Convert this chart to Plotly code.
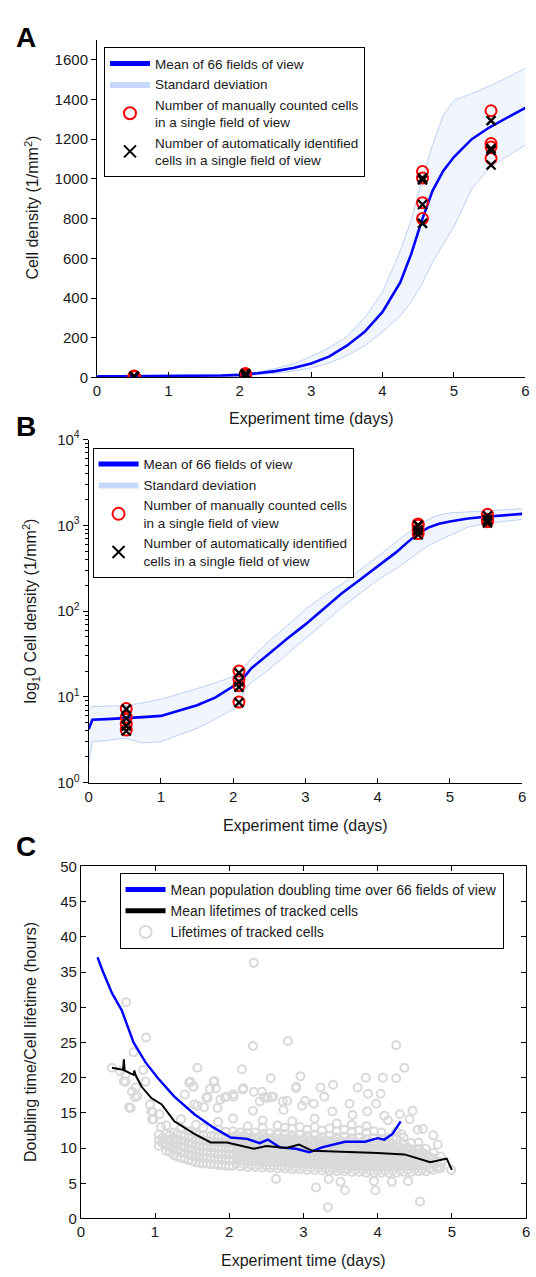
import plotly.graph_objects as go

W, H = 536, 1277
FONT = "Liberation Sans, Arial, Helvetica, sans-serif"

# ---------------- Panel A / B data (cell density, 1/mm^2) ----------------
density_days = [0, 0.05, 0.25, 0.5, 0.75, 1.0, 1.25, 1.5, 1.75, 2.0, 2.1, 2.15, 2.25, 2.5, 2.75,
                3.0, 3.25, 3.5, 3.75, 4.0, 4.25, 4.4, 4.55, 4.7, 4.85, 5.0, 5.25, 5.5, 5.75, 6.0]
density_mean = [4.2, 5.4, 5.5, 5.6, 5.8, 6.0, 6.9, 8.0, 9.8, 13.1, 15, 17, 21.5, 32, 48,
                70, 105, 160, 230, 330, 480, 620, 790, 940, 1040, 1110, 1200, 1260, 1310, 1358]
density_upper = [7.0, 7.7, 7.8, 7.9, 8.5, 9.4, 10.8, 12.4, 14.5, 17.3, 20, 22, 28, 45, 68,
                 105, 150, 205, 300, 430, 640, 790, 990, 1170, 1320, 1395, 1430, 1467, 1510, 1558]
density_lower = [1.7, 3.0, 3.1, 3.3, 2.9, 3.0, 3.6, 4.3, 5.5, 7.2, 8.0, 12, 14.6, 21, 32,
                 48, 72, 110, 160, 230, 310, 380, 470, 580, 670, 760, 950, 1055, 1115, 1170]

sample_days = [0.52, 2.08, 4.56, 5.52]
manual_counts = [[7.3, 5.8, 4.8, 4.1], [20, 16, 13.5, 8.7],
                 [1037, 1004, 880, 800], [1343, 1178, 1161, 1103]]
auto_counts = [[7.2, 5.6, 4.6, 4.0], [19, 15, 13, 8.6],
               [1004, 995, 871, 776], [1293, 1153, 1143, 1070]]

# ---------------- Panel C data (hours) ----------------
doubling_days = [0.225, 0.3, 0.42, 0.55, 0.71, 0.87, 1.04, 1.26, 1.53, 1.79, 2.02, 2.24, 2.41,
                 2.52, 2.68, 2.9, 3.08, 3.25, 3.56, 3.83, 4.0, 4.09, 4.2, 4.31]
doubling_hours = [37.1, 35.0, 32.0, 29.6, 25.0, 22.2, 19.9, 17.3, 14.8, 12.9, 11.5, 11.3, 10.7,
                  11.2, 10.1, 9.9, 9.4, 10.1, 10.9, 10.9, 11.4, 11.2, 12.0, 13.8]

lifetime_mean_days = [0.42, 0.57, 0.58, 0.59, 0.71, 0.72, 0.74, 0.82, 0.95, 1.09, 1.26, 1.53, 1.75,
                      1.97, 2.33, 2.5, 2.77, 2.94, 3.12, 3.56, 4.0, 4.36, 4.71, 4.93, 5.0]
lifetime_mean_hours = [21.4, 21.1, 22.6, 21.0, 20.4, 21.0, 20.3, 18.7, 17.1, 16.2, 13.8, 12.0, 10.8,
                       10.8, 9.9, 10.3, 10.0, 10.5, 9.6, 9.5, 9.3, 9.1, 8.0, 8.5, 6.9]

# isolated tracked-cell lifetimes (day, hours)
outlier_days = [0.61, 2.33, 0.88, 0.71, 2.32, 2.79, 4.25, 0.42, 0.60, 0.60, 0.69, 0.73, 0.67,
                0.95, 0.98, 0.93, 0.87, 0.84, 1.48, 1.52, 1.79, 1.82, 2.18, 2.33, 2.44, 1.40,
                1.71, 1.88, 1.97, 2.06, 2.41, 2.52, 2.59, 2.72, 2.90, 1.53, 1.66, 1.84,
                2.63, 3.17, 3.33, 3.56, 3.97, 4.57, 3.95, 3.34, 3.50, 4.19, 4.41, 4.99, 4.82,
                4.75, 4.81, 4.47, 4.54, 4.36, 4.25, 4.07, 3.84, 3.73, 3.87, 4.04, 3.98, 3.86,
                4.09, 4.43, 4.30, 3.62, 3.40, 3.23, 3.28, 2.96, 2.90, 2.78, 2.56, 2.19, 2.17,
                1.57, 1.80, 1.74, 1.46, 1.51, 1.57, 1.69, 1.94, 2.05, 2.32, 2.47, 2.57, 2.73,
                2.98, 3.14, 3.02, 3.39, 3.66, 4.14, 4.21, 4.32, 4.61, 4.86, 0.65, 0.97, 0.96,
                0.53, 0.58, 0.74, 0.76, 1.06, 1.08]
outlier_hours = [30.7, 36.3, 25.7, 23.6, 24.5, 25.2, 24.6, 21.4, 20.4, 19.4, 18.0, 17.2, 15.7,
                 15.2, 14.1, 16.2, 19.4, 21.1, 19.4, 18.7, 19.4, 18.5, 18.3, 18.0, 18.0, 17.6,
                 17.1, 16.9, 17.3, 17.3, 16.6, 17.1, 17.3, 16.6, 18.5, 16.2, 15.8, 15.7,
                 5.6, 4.4, 1.6, 4.0, 4.0, 2.4, 5.3, 5.6, 5.2, 5.2, 5.3, 6.9, 7.1,
                 11.8, 10.5, 15.3, 12.6, 21.4, 19.9, 20.0, 20.0, 18.6, 17.7, 17.7, 16.3, 15.2,
                 14.6, 14.1, 14.8, 16.3, 19.0, 18.6, 17.3, 20.2, 18.7, 16.7, 19.9, 18.5, 21.2,
                 21.4, 19.5, 18.4, 19.3, 18.7, 16.0, 17.2, 17.2, 17.6, 15.3, 17.2, 17.3, 15.4,
                 16.0, 16.3, 16.7, 15.2, 14.7, 13.9, 11.6, 12.0, 12.7, 7.8, 15.8, 15.1, 14.1,
                 20.9, 19.5, 18.6, 17.4, 14.8, 13.0]

# dense cloud of tracked-cell lifetimes, by column (day -> hours)
cloud_days = [1.05, 1.15, 1.25, 1.35, 1.45, 1.55, 1.65, 1.75, 1.85, 1.95, 2.05, 2.15, 2.25,
              2.35, 2.45, 2.55, 2.65, 2.75, 2.85, 2.95, 3.05, 3.15, 3.25, 3.35, 3.45, 3.55,
              3.65, 3.75, 3.85, 3.95, 4.05, 4.15, 4.25, 4.35, 4.45, 4.55, 4.65, 4.75, 4.85]
cloud_hours = [
    [10.3, 11.1, 11.9],
    [9.6, 10.4, 11.2, 12.0, 13.2],
    [9.0, 9.8, 10.6, 11.4, 12.2],
    [8.6, 9.4, 10.2, 11.0, 11.8, 12.8, 14.1],
    [8.3, 9.1, 9.9, 10.7, 11.5, 12.4],
    [8.0, 8.8, 9.6, 10.4, 11.2, 12.0, 13.3],
    [7.8, 8.6, 9.4, 10.2, 11.0, 11.8, 12.9],
    [7.7, 8.5, 9.3, 10.1, 10.9, 11.7],
    [7.6, 8.4, 9.2, 10.0, 10.8, 11.6, 12.6, 13.7],
    [7.5, 8.3, 9.1, 9.9, 10.7, 11.5, 12.3],
    [7.5, 8.3, 9.1, 9.9, 10.7, 11.5, 12.4, 14.2],
    [7.4, 8.2, 9.0, 9.8, 10.6, 11.4, 12.2],
    [7.3, 8.1, 8.9, 9.7, 10.5, 11.3, 12.1, 13.1],
    [7.3, 8.1, 8.9, 9.7, 10.5, 11.3, 12.2],
    [7.2, 8.0, 8.8, 9.6, 10.4, 11.2, 12.0, 12.9, 13.9],
    [7.2, 8.0, 8.8, 9.6, 10.4, 11.2, 12.1],
    [7.1, 7.9, 8.7, 9.5, 10.3, 11.1, 11.9, 13.2],
    [7.1, 7.9, 8.7, 9.5, 10.3, 11.1, 12.0, 12.9],
    [7.0, 7.8, 8.6, 9.4, 10.2, 11.0, 11.8, 12.7, 13.8],
    [7.0, 7.8, 8.6, 9.4, 10.2, 11.0, 11.9, 13.0],
    [6.9, 7.7, 8.5, 9.3, 10.1, 10.9, 11.7, 12.6],
    [6.9, 7.7, 8.5, 9.3, 10.1, 10.9, 11.8, 13.0, 14.2],
    [6.8, 7.6, 8.4, 9.2, 10.0, 10.8, 11.6, 12.5],
    [6.8, 7.6, 8.4, 9.2, 10.0, 10.8, 11.7, 12.8],
    [6.7, 7.5, 8.3, 9.1, 9.9, 10.7, 11.5, 12.4, 13.5],
    [6.7, 7.5, 8.3, 9.1, 9.9, 10.7, 11.6, 12.6],
    [6.6, 7.4, 8.2, 9.0, 9.8, 10.6, 11.4, 12.3, 13.3],
    [6.6, 7.4, 8.2, 9.0, 9.8, 10.6, 11.5, 12.5],
    [6.5, 7.3, 8.1, 8.9, 9.7, 10.5, 11.3, 12.2, 13.1],
    [6.5, 7.3, 8.1, 8.9, 9.7, 10.5, 11.4, 12.4],
    [6.5, 7.3, 8.1, 8.9, 9.7, 10.5, 11.3, 12.2],
    [6.5, 7.3, 8.1, 8.9, 9.7, 10.5, 11.4],
    [6.5, 7.3, 8.1, 8.9, 9.7, 10.5, 11.3, 12.3],
    [6.6, 7.4, 8.2, 9.0, 9.8, 10.6, 11.5],
    [6.6, 7.4, 8.2, 9.0, 9.8, 10.7],
    [6.7, 7.5, 8.3, 9.1, 9.9, 10.8],
    [6.7, 7.5, 8.3, 9.1, 9.9],
    [6.9, 7.7, 8.5, 9.3],
    [7.2, 8.0, 8.8],
]
# second, interleaved set of cloud columns
cloud2_days = [1.1, 1.2, 1.3, 1.4, 1.5, 1.6, 1.7, 1.8, 1.9, 2.0, 2.1, 2.2, 2.3, 2.4, 2.5, 2.6,
               2.7, 2.8, 2.9, 3.0, 3.1, 3.2, 3.3, 3.4, 3.5, 3.6, 3.7, 3.8, 3.9, 4.0, 4.1, 4.2,
               4.3, 4.4, 4.5, 4.6, 4.7, 4.8]
cloud2_hours = [
    [10.7, 11.5],
    [9.4, 10.2, 11.0, 11.8],
    [8.8, 9.6, 10.4, 11.2, 12.0],
    [8.5, 9.3, 10.1, 10.9, 11.7],
    [8.2, 9.0, 9.8, 10.6, 11.4],
    [7.9, 8.7, 9.5, 10.3, 11.1, 11.9],
    [7.8, 8.6, 9.4, 10.2, 11.0],
    [7.7, 8.5, 9.3, 10.1, 10.9, 11.7],
    [7.6, 8.4, 9.2, 10.0, 10.8],
    [7.5, 8.3, 9.1, 9.9, 10.7, 11.5],
    [7.8, 8.6, 9.4, 10.2, 11.0, 11.8],
    [7.7, 8.5, 9.3, 10.1, 10.9, 11.7],
    [7.6, 8.4, 9.2, 10.0, 10.8, 11.6],
    [7.6, 8.4, 9.2, 10.0, 10.8, 11.6],
    [7.5, 8.3, 9.1, 9.9, 10.7, 11.5],
    [7.5, 8.3, 9.1, 9.9, 10.7, 11.5],
    [7.4, 8.2, 9.0, 9.8, 10.6, 11.4],
    [7.4, 8.2, 9.0, 9.8, 10.6, 11.4],
    [7.3, 8.1, 8.9, 9.7, 10.5, 11.3],
    [7.3, 8.1, 8.9, 9.7, 10.5, 11.3],
    [7.2, 8.0, 8.8, 9.6, 10.4, 11.2],
    [7.2, 8.0, 8.8, 9.6, 10.4, 11.2],
    [7.1, 7.9, 8.7, 9.5, 10.3, 11.1],
    [7.1, 7.9, 8.7, 9.5, 10.3, 11.1],
    [7.0, 7.8, 8.6, 9.4, 10.2, 11.0],
    [7.0, 7.8, 8.6, 9.4, 10.2, 11.0],
    [6.9, 7.7, 8.5, 9.3, 10.1, 10.9],
    [6.9, 7.7, 8.5, 9.3, 10.1, 10.9],
    [6.8, 7.6, 8.4, 9.2, 10.0, 10.8],
    [6.8, 7.6, 8.4, 9.2, 10.0, 10.8],
    [6.8, 7.6, 8.4, 9.2, 10.0, 10.8],
    [6.8, 7.6, 8.4, 9.2, 10.0],
    [6.9, 7.7, 8.5, 9.3, 10.1],
    [6.9, 7.7, 8.5, 9.3, 10.1],
    [7.0, 7.8, 8.6, 9.4],
    [7.0, 7.8, 8.6, 9.4],
    [7.1, 7.9, 8.7],
    [7.3, 8.1],
]

x_ticks = [0, 1, 2, 3, 4, 5, 6]

# ---------------- helpers ----------------
def flat(days, groups):
    xs, ys = [], []
    for d, g in zip(days, groups):
        for v in g:
            xs.append(d)
            ys.append(v)
    return xs, ys

man_x, man_y = flat(sample_days, manual_counts)
aut_x, aut_y = flat(sample_days, auto_counts)
cl_x, cl_y = flat(cloud_days, cloud_hours)
cl2_x, cl2_y = flat(cloud2_days, cloud2_hours)
life_x = cl_x + cl2_x + outlier_days
life_y = cl_y + cl2_y + outlier_hours

BLUE = "#0000ff"
BAND_LINE = "#bcd0fa"
BAND_FILL = "rgba(225,234,253,0.45)"
SWATCH = "#c6d9fb"
GRAY = "#d9d9d9"

fig = go.Figure()

def density_panel(xa, ya, leg):
    fig.add_trace(go.Scatter(x=density_days, y=density_upper, mode="lines",
                             line=dict(color=BAND_LINE, width=1), showlegend=False,
                             xaxis=xa, yaxis=ya, hoverinfo="skip"))
    fig.add_trace(go.Scatter(x=density_days, y=density_lower, mode="lines", fill="tonexty",
                             fillcolor=BAND_FILL, line=dict(color=BAND_LINE, width=1),
                             showlegend=False, xaxis=xa, yaxis=ya, hoverinfo="skip"))
    fig.add_trace(go.Scatter(x=density_days, y=density_mean, mode="lines",
                             line=dict(color=BLUE, width=2.6), name="Mean of 66 fields of view",
                             legend=leg, xaxis=xa, yaxis=ya))
    fig.add_trace(go.Scatter(x=[None, None, None], y=[None, None, None], mode="lines",
                             fill="toself", fillcolor=SWATCH, line=dict(color=SWATCH, width=0),
                             name="Standard deviation", legend=leg, xaxis=xa, yaxis=ya))
    fig.add_trace(go.Scatter(x=man_x, y=man_y, mode="markers",
                             marker=dict(symbol="circle-open", size=11, color="#ff0000",
                                         line=dict(width=2, color="#ff0000")),
                             name="Number of manually counted cells<br>in a single field of view",
                             legend=leg, xaxis=xa, yaxis=ya))
    fig.add_trace(go.Scatter(x=aut_x, y=aut_y, mode="markers",
                             marker=dict(symbol="x-thin", size=9, color="#000000",
                                         line=dict(width=2.4, color="#000000")),
                             name="Number of automatically identified<br>cells in a single field of view",
                             legend=leg, xaxis=xa, yaxis=ya))

density_panel("x", "y", "legend")
density_panel("x2", "y2", "legend2")

# Panel C
fig.add_trace(go.Scatter(x=life_x, y=life_y, mode="markers",
                         marker=dict(symbol="circle-open", size=8, color=GRAY,
                                     line=dict(width=2, color=GRAY)),
                         name="Lifetimes of tracked cells", legend="legend3",
                         xaxis="x3", yaxis="y3", legendrank=3))
fig.add_trace(go.Scatter(x=doubling_days, y=doubling_hours, mode="lines",
                         line=dict(color=BLUE, width=2.4),
                         name="Mean population doubling time over 66 fields of view",
                         legend="legend3", xaxis="x3", yaxis="y3", legendrank=1))
fig.add_trace(go.Scatter(x=lifetime_mean_days, y=lifetime_mean_hours, mode="lines",
                         line=dict(color="#000000", width=2),
                         name="Mean lifetimes of tracked cells",
                         legend="legend3", xaxis="x3", yaxis="y3", legendrank=2))

def px_x(p):
    return p / W

def px_y(p):
    return 1 - p / H

tickfont = dict(family=FONT, size=15, color="#1a1a1a")
common = dict(showgrid=False, zeroline=False, showline=True, linecolor="#000000",
              linewidth=1, tickcolor="#000000", tickwidth=1, tickfont=tickfont,
              ticklabeloverflow="allow")

def legend_box(x, y, size):
    return dict(x=px_x(x), y=px_y(y), xanchor="left", yanchor="top",
                bordercolor="#000000", borderwidth=1, bgcolor="white",
                font=dict(family=FONT, size=size, color="#1a1a1a"),
                itemwidth=40, tracegroupgap=0, itemsizing="constant", traceorder="normal")

fig.update_layout(
    width=W, height=H, margin=dict(l=0, r=0, t=0, b=0),
    paper_bgcolor="white", plot_bgcolor="white",
    font=dict(family=FONT, color="#1a1a1a"),
    showlegend=True,
    xaxis=dict(domain=[px_x(94.4), px_x(529.2)], anchor="y", range=[0, 6], tickvals=x_ticks,
               ticks="inside", ticklen=5, **common),
    yaxis=dict(domain=[px_y(372), px_y(29.3)], anchor="x", range=[0, 1700],
               tickvals=[0, 200, 400, 600, 800, 1000, 1200, 1400, 1600],
               ticks="outside", ticklen=5, **common),
    xaxis2=dict(domain=[px_x(86), px_x(526)], anchor="y2", range=[0, 6], tickvals=x_ticks,
                ticks="inside", ticklen=5, **common),
    yaxis2=dict(domain=[px_y(783.3), px_y(435)], anchor="x2", type="log", range=[0, 4],
                tickvals=[1, 10, 100, 1000, 10000],
                ticktext=["10<sup>0</sup>", "10<sup>1</sup>", "10<sup>2</sup>",
                          "10<sup>3</sup>", "10<sup>4</sup>"],
                ticks="outside", ticklen=5,
                minor=dict(ticks="outside", ticklen=3, tickcolor="#000000",
                           tickvals=[m * 10 ** k for k in range(4) for m in range(2, 10)]),
                **common),
    xaxis3=dict(domain=[px_x(78), px_x(530)], anchor="y3", range=[0, 6], tickvals=x_ticks,
                ticks="inside", ticklen=5, mirror="ticks", **common),
    yaxis3=dict(domain=[px_y(1225.7), px_y(868.3)], anchor="x3", range=[0, 50],
                tickvals=[0, 5, 10, 15, 20, 25, 30, 35, 40, 45, 50],
                ticks="inside", ticklen=5, mirror="ticks", **common),
    legend=legend_box(101.5, 36.7, 13.5),
    legend2=legend_box(89.9, 443.3, 13.5),
    legend3=legend_box(117.3, 875, 14),
)

ann = []
for letter, yy in [("A", 26.7), ("B", 422), ("C", 848)]:
    ann.append(dict(text="<b>" + letter + "</b>", x=px_x(22), y=px_y(yy), xref="paper",
                    yref="paper", showarrow=False, xanchor="center", yanchor="middle",
                    font=dict(family=FONT, size=28, color="#000000")))
for txt, xx, yy in [("Cell density (1/mm<sup>2</sup>)", 28, 200),
                    ("log<sub>1</sub>0 Cell density (1/mm<sup>2</sup>)", 27, 609),
                    ("Doubling time/Cell lifetime (hours)", 27, 1047)]:
    ann.append(dict(text=txt, x=px_x(xx), y=px_y(yy), xref="paper", yref="paper",
                    showarrow=False, textangle=-90, xanchor="center", yanchor="middle",
                    font=dict(family=FONT, size=16, color="#1a1a1a")))
for xx, yy in [(312, 414), (306, 826.7), (304, 1268)]:
    ann.append(dict(text="Experiment time (days)", x=px_x(xx), y=px_y(yy), xref="paper",
                    yref="paper", showarrow=False, xanchor="center", yanchor="middle",
                    font=dict(family=FONT, size=16, color="#1a1a1a")))
fig.update_layout(annotations=ann)

fig.write_html("out.html", config={"displayModeBar": False},
               post_script="document.body.style.margin='0';document.body.style.overflow='hidden';")
